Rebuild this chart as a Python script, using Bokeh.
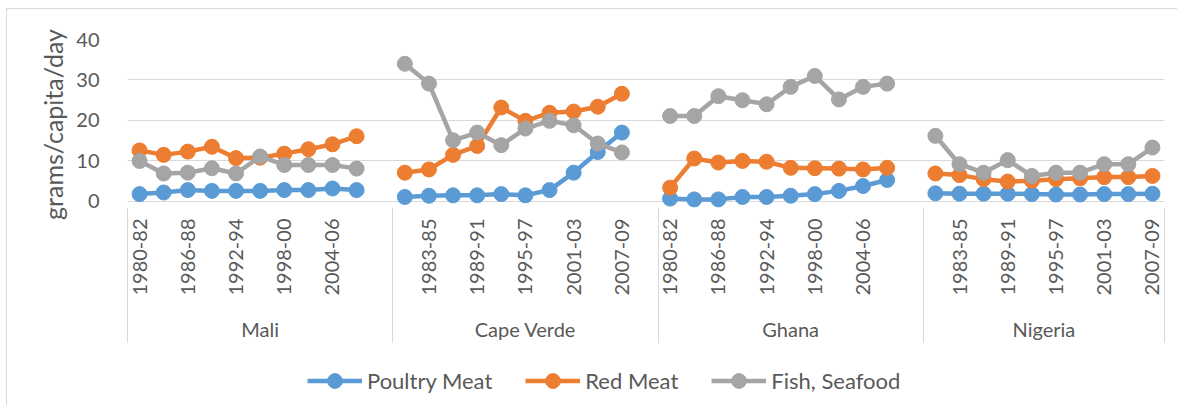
import math
from bokeh.plotting import figure
from bokeh.layouts import column
from bokeh.models import (ColumnDataSource, Range1d, FixedTicker, LinearAxis,
                          Legend, LegendItem)
from bokeh.embed import file_html
from bokeh.resources import INLINE

# ---------------- data ----------------
countries = ["Mali", "Cape Verde", "Ghana", "Nigeria"]
periods = ["1980-82", "1983-85", "1986-88", "1989-91", "1992-94",
           "1995-97", "1998-00", "2001-03", "2004-06", "2007-09"]

poultry_meat = {
    "Mali":       [1.8, 2.2, 2.8, 2.6, 2.6, 2.6, 2.8, 2.8, 3.2, 2.8],
    "Cape Verde": [1.1, 1.4, 1.5, 1.5, 1.8, 1.5, 2.8, 7.1, 12.2, 17.0],
    "Ghana":      [0.7, 0.5, 0.5, 1.1, 1.1, 1.4, 1.8, 2.6, 3.8, 5.3],
    "Nigeria":    [2.0, 1.9, 1.9, 1.9, 1.8, 1.7, 1.7, 1.8, 1.8, 1.9],
}
red_meat = {
    "Mali":       [12.6, 11.5, 12.3, 13.5, 10.7, 10.8, 11.8, 12.9, 14.1, 16.1],
    "Cape Verde": [7.1, 7.9, 11.5, 13.7, 23.2, 19.9, 21.9, 22.2, 23.4, 26.6],
    "Ghana":      [3.4, 10.6, 9.6, 10.0, 9.8, 8.3, 8.2, 8.1, 7.9, 8.3],
    "Nigeria":    [6.9, 6.5, 5.5, 4.9, 5.1, 5.5, 5.7, 6.0, 6.0, 6.3],
}
fish_seafood = {
    "Mali":       [10.0, 6.9, 7.1, 8.2, 6.9, 11.1, 9.0, 9.0, 9.0, 8.1],
    "Cape Verde": [34.0, 29.1, 15.1, 17.0, 13.9, 18.0, 19.9, 18.8, 14.3, 12.1],
    "Ghana":      [21.1, 21.1, 26.0, 25.0, 24.0, 28.3, 31.0, 25.2, 28.3, 29.1],
    "Nigeria":    [16.2, 9.2, 7.1, 10.2, 6.3, 7.1, 7.1, 9.2, 9.2, 13.3],
}
y_ticks = [0, 10, 20, 30, 40]

series = [("Poultry Meat", poultry_meat, "#5B9BD5"),
          ("Red Meat", red_meat, "#ED7D31"),
          ("Fish, Seafood", fish_seafood, "#A5A5A5")]

# ---------------- category slots (one blank slot after each group, as in the sheet) ----
n = len(periods)
step = n + 1
last_slot = (len(countries) - 1) * step + n - 1
slot_label = {}
for g, c in enumerate(countries):
    for i, per in enumerate(periods):
        slot_label[g * step + i] = per
boundaries = [-0.5] + [g * step + n + 0.5 for g in range(len(countries) - 1)] + [last_slot + 0.5]
centers = [(boundaries[k] + boundaries[k + 1]) / 2 for k in range(len(countries))]
label_slots = list(range(0, last_slot + 1, 2))

FONT = "Lato"
TXT = "#595959"
GRID = "#D9D9D9"
W = 1170

p = figure(frame_width=1037, frame_height=170,
           min_border_left=120, min_border_right=W - 120 - 1037, min_border_top=30,
           min_border_bottom=0,
           x_range=Range1d(-0.5, last_slot + 0.5), y_range=Range1d(-2, 40),
           x_axis_location=None, output_backend="svg", toolbar_location=None)
p.outline_line_color = None
p.xgrid.visible = False
p.ygrid.ticker = FixedTicker(ticks=y_ticks)
p.ygrid.grid_line_color = GRID
p.ygrid.grid_line_width = 1

yax = p.yaxis[0]
yax.ticker = FixedTicker(ticks=y_ticks)
yax.axis_line_color = None
yax.major_tick_line_color = None
yax.minor_tick_line_color = None
yax.major_label_standoff = 22
yax.major_label_text_font = FONT
yax.major_label_text_font_size = "20px"
yax.major_label_text_color = TXT
yax.axis_label = "grams/capita/day"
yax.axis_label_text_font = FONT
yax.axis_label_text_font_size = "25px"
yax.axis_label_text_font_style = "normal"
yax.axis_label_text_color = TXT
yax.axis_label_standoff = 5

# period labels
ax1 = LinearAxis(ticker=FixedTicker(ticks=label_slots),
                 major_label_overrides={s: slot_label.get(s, "") for s in label_slots},
                 major_label_orientation=math.pi / 2,
                 major_tick_in=0, major_tick_out=0, major_tick_line_color=None,
                 minor_tick_line_color=None,
                 axis_line_color=None, major_label_standoff=9,
                 major_label_text_font=FONT, major_label_text_font_size="20px",
                 major_label_text_color=TXT)
p.add_layout(ax1, "below")

# country labels
ax2 = LinearAxis(ticker=FixedTicker(ticks=centers),
                 major_label_overrides={c: name for c, name in zip(centers, countries)},
                 major_tick_in=0, major_tick_out=0, major_tick_line_color=None,
                 minor_tick_line_color=None, axis_line_color=None,
                 major_label_standoff=18,
                 major_label_text_font=FONT, major_label_text_font_size="20px",
                 major_label_text_color=TXT)
p.add_layout(ax2, "below")

# group separators: minor ticks of a label-less axis, pointing up to the zero line
ax3 = LinearAxis(ticker=FixedTicker(ticks=[], minor_ticks=boundaries),
                 major_tick_line_color=None, major_label_text_font_size="0px",
                 major_tick_in=0, major_tick_out=0, major_label_standoff=0,
                 minor_tick_in=136, minor_tick_out=0, minor_tick_line_color=GRID,
                 minor_tick_line_width=1, axis_line_color=None)
p.add_layout(ax3, "below")

# legend strip (separate figure below the chart; its frame is aligned with the chart's)
lf = figure(width=W, height=62, min_border=0, x_range=Range1d(0, 1), y_range=Range1d(0, 1),
            output_backend="svg", toolbar_location=None)
lf.outline_line_color = None
lf.axis.visible = False
lf.grid.visible = False

items = []
for name, data, color in series:
    xs, ys = [], []
    for g, c in enumerate(countries):
        for i, v in enumerate(data[c]):
            xs.append(g * step + i)
            ys.append(v)
        if g < len(countries) - 1:
            xs.append(g * step + n)
            ys.append(float("nan"))
    src = ColumnDataSource(dict(x=xs, y=ys))
    p.line("x", "y", source=src, line_color=color, line_width=4.5)
    p.scatter("x", "y", source=src, size=15, fill_color=color, line_color=color)
    empty = ColumnDataSource(dict(x=[float("nan")], y=[float("nan")]))
    lr = lf.line("x", "y", source=empty, line_color=color, line_width=4.5)
    sr = lf.scatter("x", "y", source=empty, size=15, fill_color=color, line_color=color)
    items.append(LegendItem(label=name, renderers=[lr, sr]))

legend = Legend(items=items, orientation="horizontal", location=(180, 6),
                glyph_width=55, glyph_height=37, label_standoff=5, spacing=33,
                padding=0, margin=0, border_line_color=None, background_fill_alpha=0,
                label_text_font=FONT, label_text_font_size="22px", label_text_color=TXT)
lf.add_layout(legend)

page = column(p, lf, spacing=0,
              styles={"margin": "8px 0px 0px 6px",
                      "border-top": "1px solid #D9D9D9", "border-left": "1px solid #D9D9D9"})

open("out.html", "w").write(file_html(page, INLINE))
